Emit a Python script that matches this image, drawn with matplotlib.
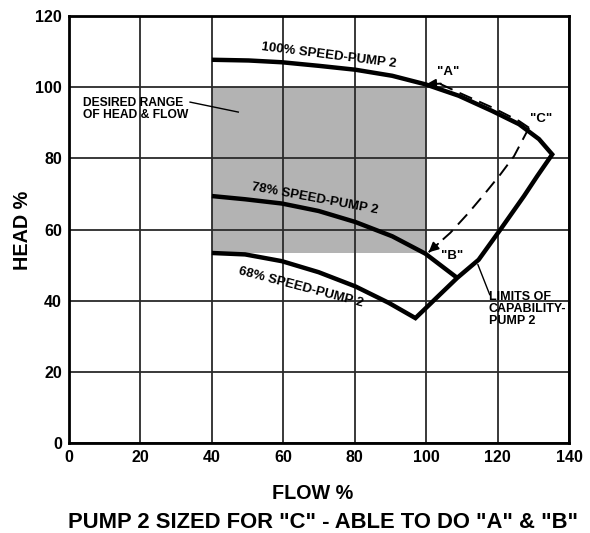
import matplotlib
matplotlib.use("Agg")
import matplotlib.pyplot as plt
import numpy as np

plt.rcParams['font.family'] = ['Liberation Sans', 'DejaVu Sans']
plt.rcParams['font.weight'] = 'bold'

# ---- data ----
speed100_flow = [40, 50.3, 59.6, 69.9, 80.2, 90.5, 99.8, 109.1, 118.5, 126.0, 129.2, 131.6, 135.3]
speed100_head = [107.7, 107.5, 107.0, 106.0, 104.9, 103.2, 100.8, 97.6, 93.3, 89.6, 87.2, 85.4, 81.1]

speed78_flow = [40, 49.3, 59.6, 69.9, 80.2, 90.5, 99.8, 108.7]
speed78_head = [69.4, 68.5, 67.3, 65.2, 62.1, 58.1, 53.2, 46.4]

speed68_flow = [40, 49.3, 59.6, 69.9, 80.2, 89.5, 97.0]
speed68_head = [53.4, 53.0, 51.1, 48.0, 44.0, 39.4, 35.1]

limit_flow = [97.0, 108.7, 114.7, 120.8, 127.4, 131.1, 135.3]
limit_head = [35.1, 46.4, 51.5, 60.0, 69.4, 75.0, 81.1]

dashA_flow = [128.8, 126.0, 118.5, 109.1, 103.1]
dashA_head = [88.6, 90.5, 94.3, 98.5, 101.3]
dashB_flow = [128.8, 124.6, 120.8, 116.6, 111.9, 106.8, 100.7]
dashB_head = [88.6, 80.6, 75.5, 70.3, 64.7, 59.1, 53.6]

desired_flow = [40, 100]
desired_head = [53.5, 100]

x_ticks = [0, 20, 40, 60, 80, 100, 120, 140]
y_ticks = [0, 20, 40, 60, 80, 100, 120]

fig = plt.figure(figsize=(5.9, 5.33), dpi=100)
ax = fig.add_axes([69/590, 90/533, 500/590, 427/533])
ax.set_xlim(0, 140)
ax.set_ylim(0, 120)

# desired range shading
ax.fill_between(desired_flow, desired_head[0], desired_head[1],
                facecolor='#b3b3b3', edgecolor='none', zorder=1)

# grid
for xv in x_ticks:
    ax.axvline(xv, color='#2a2a2a', lw=1.3, zorder=2)
for yv in y_ticks:
    ax.axhline(yv, color='#2a2a2a', lw=1.3, zorder=2)

ax.set_xticks(x_ticks)
ax.set_yticks(y_ticks)
ax.tick_params(length=0, labelsize=11.5, pad=5)
for lab in ax.get_xticklabels() + ax.get_yticklabels():
    lab.set_fontweight('bold')
for s in ax.spines.values():
    s.set_linewidth(2.0)
    s.set_color('black')
    s.set_zorder(5)

# outline: 100% curve -> limits of capability -> 68% curve (one continuous path)
outline_x = speed100_flow + limit_flow[::-1][1:] + speed68_flow[::-1][1:]
outline_y = speed100_head + limit_head[::-1][1:] + speed68_head[::-1][1:]
ax.plot(outline_x, outline_y, color='black', lw=3.2, solid_capstyle='butt',
        solid_joinstyle='miter', zorder=4)
ax.plot(speed78_flow, speed78_head, color='black', lw=3.2, solid_capstyle='butt',
        solid_joinstyle='round', zorder=4)

# dashed paths
dkw = dict(color='black', lw=1.4, dashes=(7, 4), zorder=4)
ax.plot(dashA_flow, dashA_head, **dkw)
ax.plot(dashB_flow, dashB_head, **dkw)
ax.annotate('', xy=(100.0, 100.8), xytext=(dashA_flow[-1] + 1.0, dashA_head[-1] - 0.3),
            arrowprops=dict(arrowstyle='-|>', color='black', lw=1.4, mutation_scale=14,
                            shrinkA=0, shrinkB=0), zorder=6)
ax.annotate('', xy=(dashB_flow[-1], dashB_head[-1]), xytext=(dashB_flow[-2], dashB_head[-2]),
            arrowprops=dict(arrowstyle='-|>', color='black', lw=1.4, mutation_scale=14,
                            shrinkA=12, shrinkB=0), zorder=6)

# labels on curves
tkw = dict(fontsize=9.5, fontweight='bold', ha='center', va='center',
           rotation_mode='anchor', zorder=6)
ax.text(72.6, 109.0, '100% SPEED-PUMP 2', rotation=-7.2, **tkw)
ax.text(68.7, 68.7, '78% SPEED-PUMP 2', rotation=-10.5, **tkw)
ax.text(64.8, 43.8, '68% SPEED-PUMP 2', rotation=-14.7, **tkw)

pkw = dict(fontsize=9.5, fontweight='bold', ha='center', va='center', zorder=6)
ax.text(106.3, 104.3, '"A"', **pkw)
ax.text(132.2, 91.0, '"C"', **pkw)
ax.text(107.3, 52.5, '"B"', **pkw)

ax.text(3.9, 93.8, 'DESIRED RANGE\nOF HEAD & FLOW', fontsize=8.7, fontweight='bold',
        ha='left', va='center', linespacing=0.95, zorder=6)
ax.plot([33.9, 47.4], [95.8, 93.0], color='black', lw=1.0, zorder=6)

ax.text(117.5, 37.7, 'LIMITS OF\nCAPABILITY-\nPUMP 2', fontsize=9.0, fontweight='bold',
        ha='left', va='center', linespacing=1.0, zorder=6)
ax.plot([117.8, 114.5], [41.7, 50.1], color='black', lw=1.0, zorder=6)

fig.text(313/590, 0.075, 'FLOW %', fontsize=14.2, fontweight='bold', ha='center', va='center')
fig.text(323/590, 0.019, 'PUMP 2 SIZED FOR "C" - ABLE TO DO "A" & "B"', fontsize=15.8,
         fontweight='bold', ha='center', va='center')
fig.text(22/590, 0.568, 'HEAD %', fontsize=14.2, fontweight='bold', ha='center', va='center',
         rotation=90)

fig.savefig('out.png', dpi=100)
